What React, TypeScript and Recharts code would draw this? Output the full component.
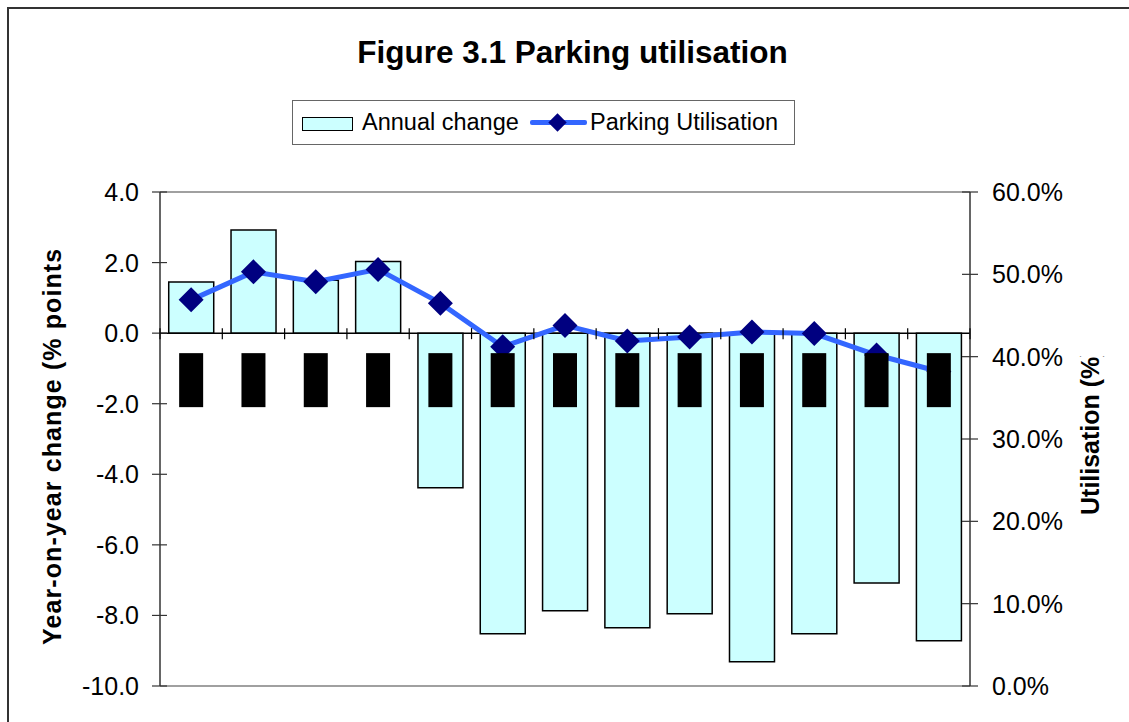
import React from 'react'
import {
  ComposedChart,
  Bar,
  Line,
  XAxis,
  YAxis,
  ReferenceLine,
} from 'recharts'

// hidden period labels (blacked out in the source figure)
const periods = ['P1', 'P2', 'P3', 'P4', 'P5', 'P6', 'P7', 'P8', 'P9', 'P10', 'P11', 'P12', 'P13']
const annualChange = [1.45, 2.92, 1.5, 2.03, -4.38, -8.52, -7.87, -8.35, -7.95, -9.31, -8.52, -7.08, -8.72]
const utilisation = [46.9, 50.3, 49.1, 50.6, 46.5, 41.2, 43.8, 41.9, 42.4, 43.0, 42.8, 40.2, 38.2]
const leftTicks = [-10, -8, -6, -4, -2, 0, 2, 4]
const rightTicks = [0, 10, 20, 30, 40, 50, 60]

const data = periods.map((p, i) => ({
  period: p,
  change: annualChange[i],
  util: utilisation[i],
}))

const W = 1129
const H = 722
const PLOT_LEFT = 160
const PLOT_RIGHT = 970
const PLOT_TOP = 192
const PLOT_BOTTOM = 686
const STEP = (PLOT_RIGHT - PLOT_LEFT) / periods.length
const ZERO_Y = PLOT_TOP + ((PLOT_BOTTOM - PLOT_TOP) * 4) / 14
const FONT = '"Liberation Sans", Arial, sans-serif'

const LeftTick = (props: any) => {
  const { y, payload } = props
  return (
    <g>
      <line x1={PLOT_LEFT - 8} x2={PLOT_LEFT + 7} y1={y} y2={y} stroke="#333" strokeWidth={1.2} />
      <text x={PLOT_LEFT - 21} y={y} dy="0.36em" textAnchor="end" fontSize={25} fill="#000" fontFamily={FONT}>
        {payload.value.toFixed(1)}
      </text>
    </g>
  )
}

const RightTick = (props: any) => {
  const { y, payload } = props
  return (
    <g>
      <line x1={PLOT_RIGHT - 8} x2={PLOT_RIGHT + 8} y1={y} y2={y} stroke="#333" strokeWidth={1.2} />
      <text x={PLOT_RIGHT + 22} y={y} dy="0.36em" textAnchor="start" fontSize={25} fill="#000" fontFamily={FONT}>
        {payload.value.toFixed(1)}%
      </text>
    </g>
  )
}

// category labels sit on the zero line and are blacked out
const CategoryTick = (props: any) => {
  const { x, payload, index } = props
  return (
    <g>
      <line x1={x - STEP / 2} x2={x - STEP / 2} y1={ZERO_Y - 5} y2={ZERO_Y + 6} stroke="#000" strokeWidth={1.2} />
      {index === periods.length - 1 && (
        <line x1={x + STEP / 2} x2={x + STEP / 2} y1={ZERO_Y - 5} y2={ZERO_Y + 6} stroke="#000" strokeWidth={1.2} />
      )}
      <rect x={x - 12} y={ZERO_Y + 20} width={24} height={54} fill="#000" />
      <text
        x={x}
        y={ZERO_Y + 47}
        transform={`rotate(-90 ${x} ${ZERO_Y + 47})`}
        textAnchor="middle"
        dy="0.35em"
        fontSize={18}
        fill="#000"
        fontFamily={FONT}
      >
        {payload.value}
      </text>
    </g>
  )
}

const Diamond = (props: any) => {
  const { cx, cy } = props
  if (cx == null || cy == null) return null
  const r = 12.5
  return (
    <polygon
      points={`${cx},${cy - r} ${cx + r},${cy} ${cx},${cy + r} ${cx - r},${cy}`}
      fill="#000080"
    />
  )
}

const LeftTitle = () => (
  <g>
    <defs>
      <clipPath id="leftTitleClip">
        <rect x={20} y={250} width={60} height={420} />
      </clipPath>
    </defs>
    <g clipPath="url(#leftTitleClip)">
      <text
        x={52}
        y={645}
        transform="rotate(-90 52 645)"
        textAnchor="start"
        dy="0.35em"
        fontSize={25}
        fontWeight="bold"
        letterSpacing={1.1}
        fill="#000"
        fontFamily={FONT}
      >
        Year-on-year change (% points)
      </text>
    </g>
  </g>
)

const RightTitle = () => (
  <g>
    <defs>
      <clipPath id="rightTitleClip">
        <rect x={1070} y={356} width={50} height={200} />
      </clipPath>
    </defs>
    <g clipPath="url(#rightTitleClip)">
      <text
        x={1090}
        y={515}
        transform="rotate(-90 1090 515)"
        textAnchor="start"
        dy="0.35em"
        fontSize={25}
        fontWeight="bold"
        fill="#000"
        fontFamily={FONT}
      >
        Utilisation (%)
      </text>
    </g>
  </g>
)

export default function App() {
  return (
    <div
      style={{
        position: 'fixed',
        left: 0,
        top: 0,
        width: W,
        height: H,
        overflow: 'hidden',
        background: '#fff',
        fontFamily: FONT,
      }}
    >
      <div
        style={{
          position: 'absolute',
          left: 7,
          top: 7,
          width: 1300,
          height: 900,
          border: '2px solid #333',
        }}
      />
      <div
        style={{
          position: 'absolute',
          left: 0,
          width: 1145,
          top: 33,
          textAlign: 'center',
          fontSize: 31.5,
          fontWeight: 'bold',
          lineHeight: '38px',
          color: '#000',
        }}
      >
        Figure 3.1 Parking utilisation
      </div>
      <div
        style={{
          position: 'absolute',
          left: 292,
          top: 100,
          width: 503,
          height: 45,
          border: '1px solid #666',
          boxSizing: 'border-box',
          background: '#fff',
        }}
      >
        <div
          style={{
            position: 'absolute',
            left: 9,
            top: 16,
            width: 49,
            height: 12,
            background: '#CCFFFF',
            border: '1.5px solid #000',
          }}
        />
        <div style={{ position: 'absolute', left: 69, top: 6, fontSize: 23.5, lineHeight: '30px' }}>
          Annual change
        </div>
        <div
          style={{
            position: 'absolute',
            left: 237,
            top: 19,
            width: 57,
            height: 5,
            background: '#3366FF',
            borderRadius: 2,
          }}
        />
        <div
          style={{
            position: 'absolute',
            left: 258,
            top: 15,
            width: 13,
            height: 13,
            background: '#000080',
            transform: 'rotate(45deg)',
          }}
        />
        <div style={{ position: 'absolute', left: 297, top: 6, fontSize: 23.5, lineHeight: '30px' }}>
          Parking Utilisation
        </div>
      </div>
      <div style={{ position: 'absolute', left: 0, top: 0 }}>
        <ComposedChart
          width={W}
          height={H}
          data={data}
          margin={{ top: PLOT_TOP, right: 0, bottom: 0, left: 0 }}
          barCategoryGap="14%"
        >
          <YAxis
            yAxisId="left"
            orientation="left"
            width={PLOT_LEFT}
            domain={[-10, 4]}
            ticks={leftTicks}
            interval={0}
            allowDataOverflow
            axisLine={{ stroke: '#333', strokeWidth: 1.5 }}
            tickLine={false}
            tick={<LeftTick />}
          />
          <YAxis
            yAxisId="right"
            orientation="right"
            width={W - PLOT_RIGHT}
            domain={[0, 60]}
            ticks={rightTicks}
            interval={0}
            allowDataOverflow
            axisLine={{ stroke: '#333', strokeWidth: 1.5 }}
            tickLine={false}
            tick={<RightTick />}
          />
          <ReferenceLine yAxisId="left" y={4} stroke="#808080" strokeWidth={1.5} />
          <ReferenceLine yAxisId="left" y={-10} stroke="#808080" strokeWidth={1.5} />
          <Bar
            yAxisId="left"
            dataKey="change"
            fill="#CCFFFF"
            stroke="#000"
            strokeWidth={1.5}
            isAnimationActive={false}
          />
          <ReferenceLine yAxisId="left" y={0} stroke="#000" strokeWidth={1.5} />
          <Line
            yAxisId="right"
            dataKey="util"
            stroke="#3366FF"
            strokeWidth={5}
            dot={<Diamond />}
            activeDot={false}
            isAnimationActive={false}
          />
          <XAxis
            dataKey="period"
            height={H - PLOT_BOTTOM}
            axisLine={false}
            tickLine={false}
            interval={0}
            tick={<CategoryTick />}
          />
          <LeftTitle />
          <RightTitle />
        </ComposedChart>
      </div>
    </div>
  )
}
